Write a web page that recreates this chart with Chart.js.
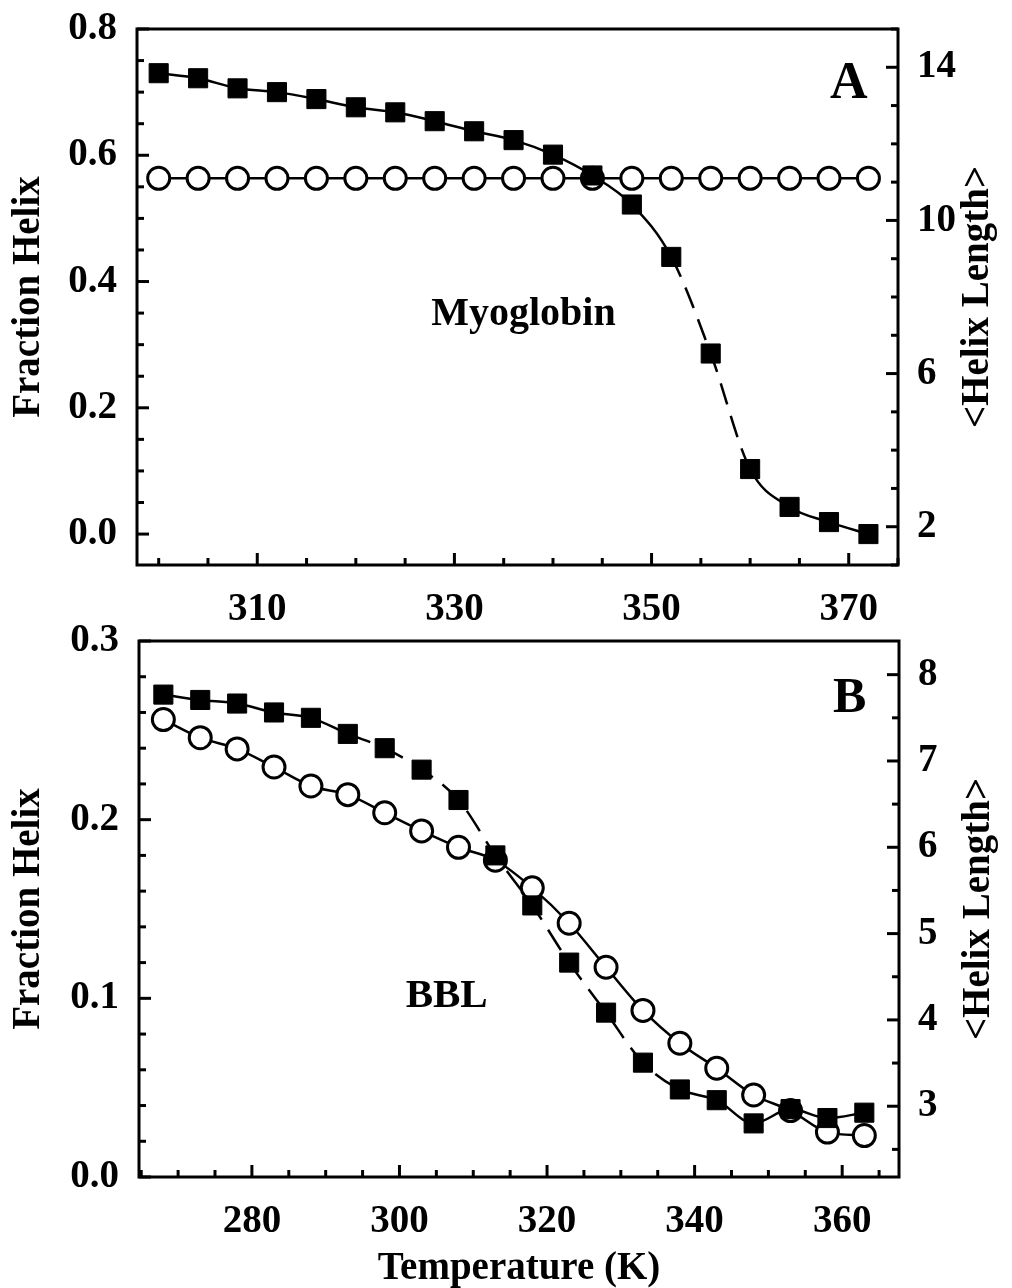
<!DOCTYPE html>
<html>
<head>
<meta charset="utf-8">
<script src="https://cdn.jsdelivr.net/npm/chart.js@4.4.1/dist/chart.umd.min.js"></script>
<style>
    html, body { margin: 0; padding: 0; background: #fff; }
    #wrap { position: relative; width: 1012px; height: 1288px; }
    canvas { position: absolute; left: 0; }
    #chartA { top: 0; }
    #chartB { top: 600px; }
</style>
</head>
<body>
<div id="wrap">
    <canvas id="chartA" width="1012" height="640"></canvas>
    <canvas id="chartB" width="1012" height="688"></canvas>
</div>
<script>
// panel A - myoglobin
const tempA = [300, 304, 308, 312, 316, 320, 324, 328, 332, 336, 340, 344, 348, 352, 356, 360, 364, 368, 372];
const fracA = [0.730, 0.722, 0.706, 0.700, 0.689, 0.676, 0.668, 0.654, 0.638, 0.624, 0.601, 0.568, 0.522, 0.439, 0.286, 0.103, 0.043, 0.019, 0.000];
const lenA = [11.1, 11.1, 11.1, 11.1, 11.1, 11.1, 11.1, 11.1, 11.1, 11.1, 11.1, 11.1, 11.1, 11.1, 11.1, 11.1, 11.1, 11.1, 11.1];

// panel B - BBL
const tempB = [268, 273, 278, 283, 288, 293, 298, 303, 308, 313, 318, 323, 328, 333, 338, 343, 348, 353, 358, 363];
const fracB = [0.270, 0.267, 0.265, 0.260, 0.257, 0.248, 0.240, 0.228, 0.211, 0.180, 0.152, 0.120, 0.092, 0.064, 0.049, 0.043, 0.030, 0.038, 0.033, 0.036];
const lenB = [7.48, 7.27, 7.14, 6.93, 6.71, 6.61, 6.40, 6.19, 6.00, 5.85, 5.53, 5.12, 4.61, 4.11, 3.73, 3.44, 3.13, 2.95, 2.70, 2.66];

// tick labels
const xTicksA = [310, 330, 350, 370];
const fracTicksA = [0, 0.2, 0.4, 0.6, 0.8];
const lenTicksA = [2, 6, 10, 14];
const xTicksB = [280, 300, 320, 340, 360];
const fracTicksB = [0, 0.1, 0.2, 0.3];
const lenTicksB = [3, 4, 5, 6, 7, 8];

const SERIF = '"Liberation Serif", "Times New Roman", serif';
const INK = '#000';

function pts(xs, ys) {
    return xs.map((x, i) => ({ x: x, y: ys[i] }));
}

// inward tick marks along one side of the plot box
function tickMarks(ctx, scale, step, side, area) {
    const majors = scale.ticks.map(t => t.value);
    const first = Math.ceil(scale.min / step - 1e-6);
    const last = Math.floor(scale.max / step + 1e-6);
    for (let k = first; k <= last; k++) {
        const v = k * step;
        const big = majors.some(m => Math.abs(m - v) < step / 10);
        const len = big ? 12 : 7;
        const p = scale.getPixelForValue(v);
        ctx.beginPath();
        if (side === 'bottom') {
            ctx.moveTo(p, area.bottom);
            ctx.lineTo(p, area.bottom - len);
        } else if (side === 'left') {
            ctx.moveTo(area.left, p);
            ctx.lineTo(area.left + len, p);
        } else {
            ctx.moveTo(area.right, p);
            ctx.lineTo(area.right - len, p);
        }
        ctx.stroke();
    }
}

// keep label overhang from moving the plot box
function noPad(sc) {
    sc.paddingTop = 0;
    sc.paddingBottom = 0;
    sc.paddingLeft = 0;
    sc.paddingRight = 0;
}

const framePlugin = {
    id: 'frame',
    afterDraw(chart, args, opts) {
        const ctx = chart.ctx;
        const a = chart.chartArea;
        const s = chart.scales;
        ctx.save();
        ctx.strokeStyle = INK;
        ctx.lineWidth = 3;
        tickMarks(ctx, s.x, opts.minor[0], 'bottom', a);
        tickMarks(ctx, s.y, opts.minor[1], 'left', a);
        tickMarks(ctx, s.y2, opts.minor[2], 'right', a);
        ctx.strokeRect(a.left, a.top, a.right - a.left, a.bottom - a.top);

        // text inside the box
        ctx.fillStyle = INK;
        ctx.textAlign = 'center';
        ctx.textBaseline = 'alphabetic';
        opts.notes.forEach(n => {
            ctx.font = 'bold ' + n.size + 'px ' + SERIF;
            ctx.fillText(n.text, s.x.getPixelForValue(n.x), s.y.getPixelForValue(n.y));
        });

        // right axis title, reading bottom to top
        ctx.font = 'bold 39px ' + SERIF;
        ctx.textBaseline = 'middle';
        ctx.translate(a.right + 80, (a.top + a.bottom) / 2);
        ctx.rotate(-Math.PI / 2);
        ctx.fillText('<Helix Length>', 0, 0);
        ctx.restore();
    }
};

function tickFont() {
    return { family: SERIF, size: 39, weight: 'bold' };
}

function makeChart(id, p) {
    return new Chart(document.getElementById(id), {
        type: 'line',
        data: {
            datasets: [
                {
                    data: pts(p.temp, p.frac),
                    yAxisID: 'y',
                    borderColor: INK,
                    borderWidth: 2.5,
                    pointStyle: 'rect',
                    pointRadius: 13.5,
                    pointBackgroundColor: INK,
                    pointBorderColor: INK,
                    pointBorderWidth: 1,
                    tension: 0.4,
                    cubicInterpolationMode: 'monotone',
                    segment: {
                        borderDash: ctx => (ctx.p0.parsed.x >= p.dash[0] && ctx.p1.parsed.x <= p.dash[1]) ? p.dashPattern : undefined
                    }
                },
                {
                    data: pts(p.temp, p.len),
                    yAxisID: 'y2',
                    borderColor: INK,
                    borderWidth: 2.5,
                    pointStyle: 'circle',
                    pointRadius: 11,
                    pointBackgroundColor: '#fff',
                    pointBorderColor: INK,
                    pointBorderWidth: 3,
                    tension: p.circleTension,
                    cubicInterpolationMode: 'monotone'
                }
            ]
        },
        options: {
            responsive: false,
            animation: false,
            events: [],
            devicePixelRatio: 1,
            layout: { padding: { top: p.top, left: 0, right: 0, bottom: 0 } },
            plugins: {
                legend: { display: false },
                tooltip: { enabled: false },
                frame: { minor: p.minor, notes: p.notes }
            },
            scales: {
                x: {
                    type: 'linear',
                    position: 'bottom',
                    min: p.xRange[0],
                    max: p.xRange[1],
                    grid: { display: false, drawTicks: false },
                    border: { display: false },
                    afterBuildTicks: sc => { sc.ticks = p.xTicks.map(v => ({ value: v })); },
                    afterFit: sc => { sc.height = p.bottomH; noPad(sc); },
                    ticks: {
                        autoSkip: false, maxRotation: 0, padding: 22,
                        color: INK, font: tickFont(),
                        callback: v => String(v)
                    },
                    title: {
                        display: p.xTitle !== '',
                        text: p.xTitle,
                        color: INK,
                        padding: 0,
                        font: { family: SERIF, size: 39, weight: 'bold', lineHeight: 1 }
                    }
                },
                y: {
                    position: 'left',
                    min: p.fracRange[0],
                    max: p.fracRange[1],
                    grid: { display: false, drawTicks: false },
                    border: { display: false },
                    afterBuildTicks: sc => { sc.ticks = p.fracTicks.map(v => ({ value: v })); },
                    afterFit: sc => { sc.width = p.leftW; noPad(sc); },
                    ticks: {
                        padding: 20, color: INK, font: tickFont(),
                        callback: v => v.toFixed(1)
                    },
                    title: {
                        display: true,
                        text: 'Fraction Helix',
                        color: INK,
                        padding: { top: 9, bottom: 0 },
                        font: { family: SERIF, size: 39, weight: 'bold', lineHeight: 1 }
                    }
                },
                y2: {
                    position: 'right',
                    min: p.lenRange[0],
                    max: p.lenRange[1],
                    grid: { display: false, drawTicks: false },
                    border: { display: false },
                    afterBuildTicks: sc => { sc.ticks = p.lenTicks.map(v => ({ value: v })); },
                    afterFit: sc => { sc.width = p.rightW; noPad(sc); },
                    ticks: {
                        padding: 19, color: INK, font: tickFont(),
                        callback: v => String(v)
                    }
                }
            }
        },
        plugins: [framePlugin]
    });
}

// top panel
makeChart('chartA', {
    temp: tempA, frac: fracA, len: lenA,
    xTicks: xTicksA, fracTicks: fracTicksA, lenTicks: lenTicksA,
    xRange: [297.8, 375.0], fracRange: [-0.049, 0.8], lenRange: [1, 15],
    minor: [5, 0.05, 1],
    top: 29, bottomH: 75, leftW: 137, rightW: 114,
    dash: [352, 360], dashPattern: [22, 12],
    circleTension: 0,
    xTitle: '',
    notes: [
        { text: 'A', x: 370, y: 0.69, size: 52 },
        { text: 'Myoglobin', x: 337, y: 0.331, size: 40 }
    ]
});

// bottom panel
makeChart('chartB', {
    temp: tempB, frac: fracB, len: lenB,
    xTicks: xTicksB, fracTicks: fracTicksB, lenTicks: lenTicksB,
    xRange: [264.7, 367.7], fracRange: [0, 0.3], lenRange: [2.18, 8.39],
    minor: [5, 0.02, 0.5],
    top: 41, bottomH: 111, leftW: 139, rightW: 113,
    dash: [293, 338], dashPattern: [24, 12],
    circleTension: 0.4,
    xTitle: 'Temperature (K)',
    notes: [
        { text: 'B', x: 361, y: 0.2605, size: 50 },
        { text: 'BBL', x: 306.4, y: 0.0952, size: 41 }
    ]
});
</script>
</body>
</html>
